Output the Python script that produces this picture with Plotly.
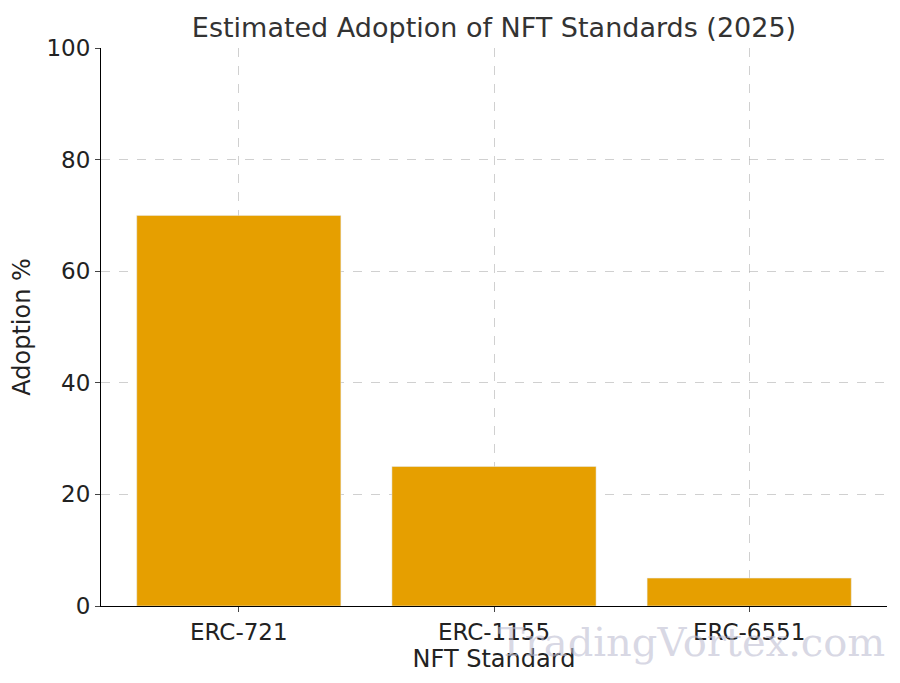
import plotly.graph_objects as go

standards = ["ERC-721", "ERC-1155", "ERC-6551"]
adoption = [70, 25, 5]

fig = go.Figure(go.Bar(x=standards, y=adoption, marker_color="#E69F00", width=0.8))
grid = dict(showgrid=True, gridcolor="rgba(176,176,176,0.6)", griddash="dash", gridwidth=1)
fig.update_layout(
    width=900, height=683, plot_bgcolor="white", paper_bgcolor="white",
    font=dict(family="DejaVu Sans", size=20, color="#222"),
    title=dict(text="Estimated Adoption of NFT Standards (2025)", x=0.5, xref="paper", xanchor="center",
               y=0.985, yanchor="top", font=dict(size=27, color="#333")),
    margin=dict(l=93, r=21, t=40, b=85, autoexpand=False),
    showlegend=False,
)
fig.update_xaxes(title=dict(text="NFT Standard", standoff=2), range=[-0.54, 2.54], showline=True,
                 linecolor="black", ticks="outside", ticklen=5, layer="above traces",
                 tickfont=dict(size=23), **grid)
fig.update_yaxes(title=dict(text="Adoption %", standoff=12), range=[0, 100], dtick=20, showline=True,
                 linecolor="black", ticks="outside", ticklen=5, zeroline=False, layer="above traces",
                 tickfont=dict(size=23), **grid)
fig.add_annotation(text="TradingVortex.com", xref="paper", yref="paper", x=1.0, y=-0.11,
                   xanchor="right", yanchor="bottom", showarrow=False,
                   font=dict(family="DejaVu Serif", size=40, color="rgba(190,190,210,0.6)"))
fig.write_html("out.html")
